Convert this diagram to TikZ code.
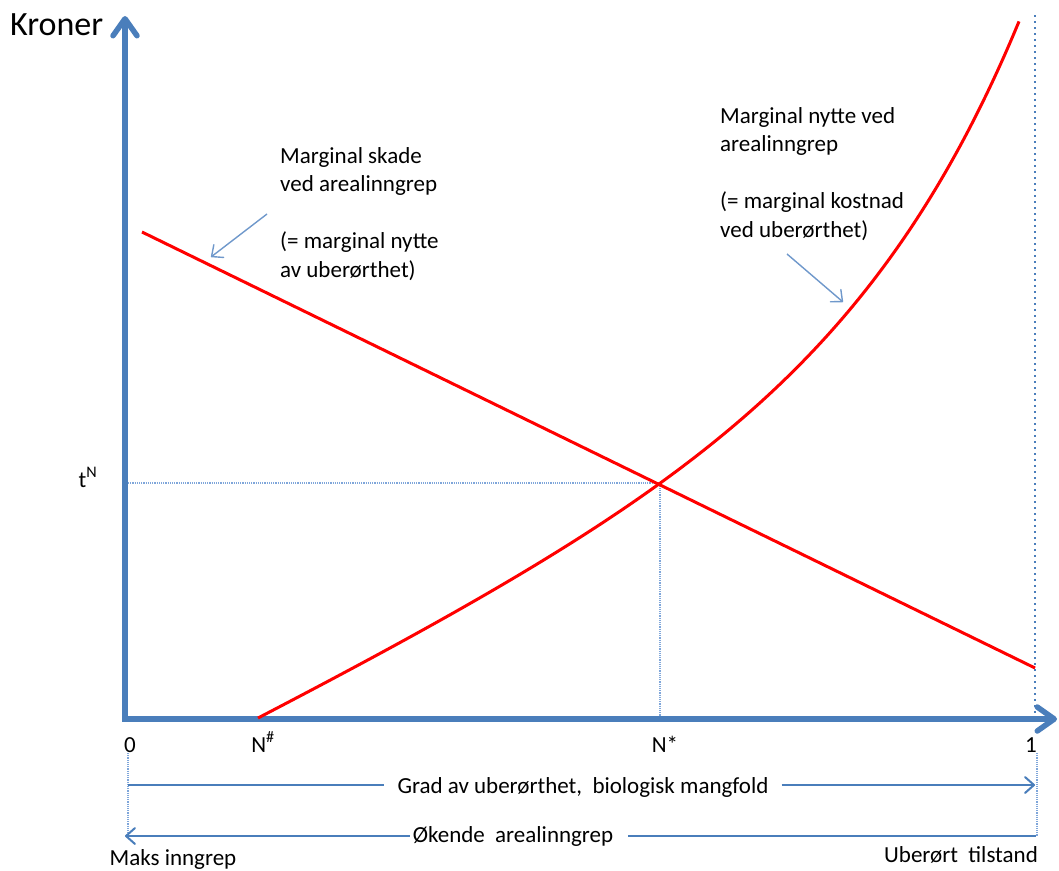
\documentclass[tikz,border=0pt]{standalone}
\usepackage{fontspec}
\setmainfont{Carlito}
\usetikzlibrary{arrows.meta}
\definecolor{axisblue}{HTML}{4A7EBB}
\definecolor{lightblue}{HTML}{7FA6DA}
\definecolor{annblue}{HTML}{6F98CB}
\tikzset{
  bigtip/.tip={Straight Barb[length=17pt,width=24pt,round]},
  smalltip/.tip={Straight Barb[length=9pt,width=16pt,round]}
}
\begin{document}
\begin{tikzpicture}[x=1pt,y=-1pt,
  font=\fontsize{23}{28.5}\selectfont,
  axis/.style={draw=axisblue, line width=5.5pt, line join=miter},
  redline/.style={draw=red, line width=3pt},
  guide/.style={draw=lightblue, line width=1.2pt, dash pattern=on 1.2pt off 1pt},
  edgedot/.style={draw=axisblue, line width=2.6pt, dash pattern=on 2.2pt off 3.8pt},
  ann/.style={draw=annblue, line width=1.4pt, -{smalltip}},
  dirline/.style={draw=axisblue, line width=2pt},
  lbl/.style={inner sep=0pt, anchor=base},
  blocktext/.style={inner sep=0pt, anchor=base west, align=left}
]
\useasboundingbox (0,0) rectangle (1059,870);

% axes
\coordinate (ytop) at (125,16);
\coordinate (O) at (125,719);
\coordinate (xend) at (1057,719);
\draw[axis, {bigtip}-{bigtip}] (ytop) -- (O) -- (xend);

% guides
\coordinate (E) at (660,483);
\coordinate (tNy) at (128,483);
\coordinate (NsX) at (660,716);
\draw[guide] (tNy) -- (E) -- (NsX);
\coordinate (rTop) at (1035,15);
\coordinate (rBot) at (1035,716);
\draw[edgedot] (rTop) -- (rBot);

% red curves
\coordinate (dS) at (142,232);
\coordinate (dE) at (1035,668);
\draw[redline] (dS) -- (dE);
\draw[redline, line join=round] plot[domain=0:761, samples=120, smooth]
  ({258+\x}, {718-(0.5*\x+3.33*(exp(0.006*\x)-1))});

% labels
\node[lbl, anchor=base west] (kroner) at (10,35) {\fontsize{34}{40}\selectfont Kroner};
\node[lbl] (tN) at (88,487) {t\textsuperscript{N}};
\node[lbl] (zero) at (130,752) {0};
\node[lbl] (Nh) at (263,752) {N\textsuperscript{\#}};
\node[lbl] (Ns) at (665,752) {N*};
\node[lbl] (one) at (1031,752) {1};

% annotation texts (base anchor = baseline of last line)
\node[blocktext] (skade) at (280,277) {Marginal skade\\ved arealinngrep\\[28.5pt](= marginal nytte\\av uberørthet)};
\node[blocktext] (nytte) at (720,237) {Marginal nytte ved\\arealinngrep\\[28.5pt](= marginal kostnad\\ved uberørthet)};

% annotation arrows
\coordinate (a1s) at (267,214);
\coordinate (a1e) at (211,257);
\draw[ann] (a1s) -- (a1e);
\coordinate (a2s) at (787,254);
\coordinate (a2e) at (843,302);
\draw[ann] (a2s) -- (a2e);

% bottom direction arrows
\coordinate (bL1) at (128,753);
\coordinate (bL2) at (128,834);
\coordinate (bR1) at (1037,753);
\coordinate (bR2) at (1037,836);
\draw[guide] (bL1) -- (bL2);
\draw[guide] (bR1) -- (bR2);

\node[lbl] (grad) at (583,793) {Grad av uberørthet,\ \ biologisk mangfold};
\coordinate (gL) at (128,785);
\coordinate (gR) at (1035,785);
\draw[dirline] (gL) -- ([xshift=-13pt]grad.west |- gL);
\draw[dirline, -{smalltip}] ([xshift=13pt]grad.east |- gR) -- (gR);

\node[lbl] (okende) at (513,842) {Økende\ \ arealinngrep};
\coordinate (oL) at (125,836);
\coordinate (oR) at (1036,836);
\draw[dirline, {smalltip}-] (oL) -- ([xshift=-3pt]okende.west |- oL);
\draw[dirline] ([xshift=15pt]okende.east |- oR) -- (oR);

\node[lbl] (maks) at (173,865) {Maks inngrep};
\node[lbl] (uberort) at (961,862) {Uberørt\ \ tilstand};
\end{tikzpicture}
\end{document}
